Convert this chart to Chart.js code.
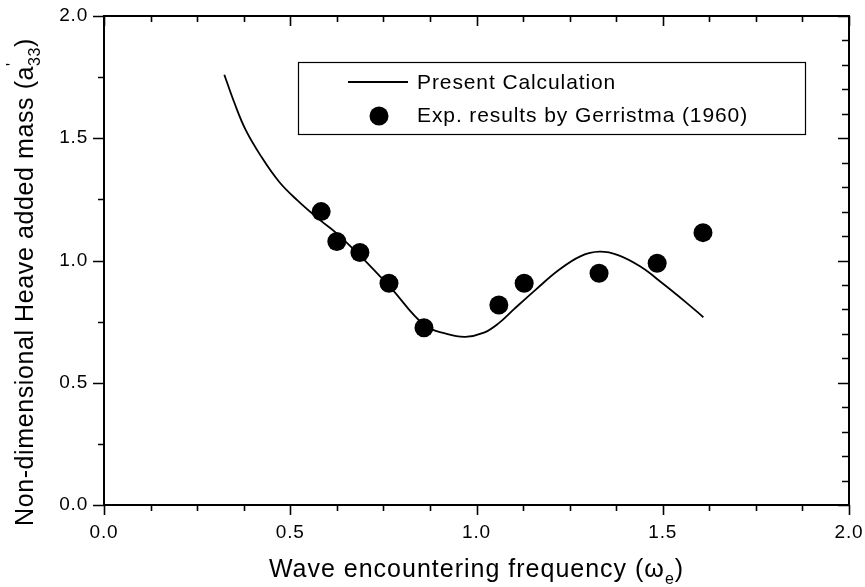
<!DOCTYPE html>
<html>
<head>
<meta charset="utf-8">
<title>Heave added mass</title>
<script src="https://cdn.jsdelivr.net/npm/chart.js@4.4.1/dist/chart.umd.min.js"></script>
<style>
  html, body { margin: 0; padding: 0; background: #fff; }
  canvas { display: block; }
</style>
</head>
<body>
<canvas id="chart" width="865" height="587"></canvas>
<script>
// calculated curve
const calcFreq = [0.323, 0.35, 0.38, 0.42, 0.47, 0.52, 0.58, 0.62, 0.69, 0.77, 0.86, 0.92, 0.97,
  1.02, 1.06, 1.10, 1.16, 1.22, 1.28, 1.33, 1.38, 1.44, 1.50, 1.56, 1.609];
const calcMass = [1.76, 1.645, 1.535, 1.43, 1.322, 1.245, 1.165, 1.117, 1.016, 0.888, 0.736, 0.70, 0.688,
  0.705, 0.744, 0.80, 0.882, 0.96, 1.018, 1.036, 1.022, 0.975, 0.906, 0.832, 0.768];

// experiments (Gerritsma 1960)
const expFreq = [0.583, 0.625, 0.687, 0.765, 0.859, 1.060, 1.128, 1.329, 1.485, 1.608];
const expMass = [1.20, 1.078, 1.033, 0.907, 0.725, 0.818, 0.907, 0.948, 0.989, 1.114];

const xTickLabels = ['0.0', '0.5', '1.0', '1.5', '2.0'];
const yTickLabels = ['0.0', '0.5', '1.0', '1.5', '2.0'];

const FONT = '"Liberation Sans", Arial, sans-serif';

// draws a run of text pieces (normal / sub / sup) centred on x
function drawRich(ctx, parts, cx, y, size) {
  const widths = parts.map(p => {
    ctx.font = `${Math.round(size * (p.scale || 1))}px ${FONT}`;
    return p.noAdvance ? 0 : ctx.measureText(p.text).width;
  });
  let x = cx - widths.reduce((a, b) => a + b, 0) / 2;
  parts.forEach((p, i) => {
    ctx.font = `${Math.round(size * (p.scale || 1))}px ${FONT}`;
    ctx.fillText(p.text, x + (p.dx || 0), y + (p.dy || 0) * size);
    x += widths[i];
  });
}

const axesPlugin = {
  id: 'axesPlugin',
  beforeDraw(chart) {
    chart.ctx.letterSpacing = '0.8px';
  },
  afterDraw(chart) {
    const { ctx, chartArea: a, scales: { x, y } } = chart;
    ctx.save();
    ctx.letterSpacing = '0px';
    ctx.strokeStyle = '#000';
    ctx.fillStyle = '#000';

    // frame
    ctx.lineWidth = 2;
    ctx.strokeRect(a.left, a.top, a.right - a.left, a.bottom - a.top);

    ctx.lineWidth = 1.6;
    ctx.beginPath();
    // bottom (out) and top (in), every 0.125
    for (let i = 0; i <= 16; i++) {
      const px = Math.round(x.getPixelForValue(i * 0.125)) + 0.5;
      const len = i % 4 === 0 ? 10 : 6;
      ctx.moveTo(px, a.bottom); ctx.lineTo(px, a.bottom + len);
      ctx.moveTo(px, a.top); ctx.lineTo(px, a.top + len);
    }
    // left (out), every 0.25
    for (let i = 0; i <= 8; i++) {
      const py = Math.round(y.getPixelForValue(i * 0.25)) + 0.5;
      const len = i % 2 === 0 ? 11 : 6;
      ctx.moveTo(a.left, py); ctx.lineTo(a.left - len, py);
    }
    // right (in), every 0.1
    for (let i = 0; i <= 20; i++) {
      const py = Math.round(y.getPixelForValue(i * 0.1)) + 0.5;
      const len = i % 5 === 0 ? 11 : 7;
      ctx.moveTo(a.right, py); ctx.lineTo(a.right - len, py);
    }
    ctx.stroke();

    // axis titles
    ctx.textAlign = 'left';
    ctx.textBaseline = 'alphabetic';
    ctx.letterSpacing = '1px';
    drawRich(ctx, [
      { text: 'Wave encountering frequency (ω' },
      { text: 'e', scale: 0.65, dy: 0.28 },
      { text: ')' }
    ], (a.left + a.right) / 2, 577, 25);

    ctx.save();
    ctx.letterSpacing = '0.6px';
    ctx.translate(33, 282);
    ctx.rotate(-Math.PI / 2);
    drawRich(ctx, [
      { text: 'Non-dimensional Heave added mass (a' },
      { text: '\'', scale: 0.65, dy: -0.62, noAdvance: true },
      { text: '33', scale: 0.65, dy: 0.28 },
      { text: ')' }
    ], 0, 0, 25);
    ctx.restore();

    // legend
    const [calc, exp] = chart.data.datasets;
    const bx = 298, by = 62, bw = 507, bh = 72;
    ctx.letterSpacing = '0.9px';
    ctx.fillStyle = '#fff';
    ctx.fillRect(bx, by, bw, bh);
    ctx.lineWidth = 1.2;
    ctx.strokeRect(bx + 0.5, by + 0.5, bw, bh);
    ctx.fillStyle = '#000';
    ctx.lineWidth = 1.8;
    ctx.beginPath();
    ctx.moveTo(348, 82); ctx.lineTo(408, 82);
    ctx.stroke();
    ctx.beginPath();
    ctx.arc(379, 116, 9.5, 0, Math.PI * 2);
    ctx.fill();
    ctx.font = `21px ${FONT}`;
    ctx.textBaseline = 'middle';
    ctx.fillText(calc.label, 417, 83);
    ctx.fillText(exp.label, 417, 116);

    ctx.restore();
  }
};

new Chart(document.getElementById('chart'), {
  type: 'scatter',
  data: {
    datasets: [
      {
        label: 'Present Calculation',
        data: calcFreq.map((f, i) => ({ x: f, y: calcMass[i] })),
        showLine: true,
        pointRadius: 0,
        borderColor: '#000',
        borderWidth: 1.8,
        tension: 0.4,
        fill: false
      },
      {
        label: 'Exp. results by Gerristma (1960)',
        data: expFreq.map((f, i) => ({ x: f, y: expMass[i] })),
        showLine: false,
        pointRadius: 9.5,
        pointBackgroundColor: '#000',
        pointBorderWidth: 0
      }
    ]
  },
  options: {
    responsive: false,
    animation: false,
    layout: { padding: { top: 16, right: 16, left: 0, bottom: 0 } },
    plugins: { legend: { display: false }, tooltip: { enabled: false } },
    scales: {
      x: {
        type: 'linear', min: 0, max: 2,
        grid: { display: false, drawTicks: false },
        border: { display: false },
        ticks: {
          stepSize: 0.5, padding: 16, color: '#000', maxRotation: 0,
          font: { family: FONT, size: 19 },
          callback: (v) => xTickLabels[Math.round(v / 0.5)]
        },
        afterFit: (s) => { s.height = 82; s.paddingLeft = 0; s.paddingRight = 0; }
      },
      y: {
        type: 'linear', min: 0, max: 2,
        grid: { display: false, drawTicks: false },
        border: { display: false },
        ticks: {
          stepSize: 0.5, padding: 16, color: '#000',
          font: { family: FONT, size: 19 },
          callback: (v) => yTickLabels[Math.round(v / 0.5)]
        },
        afterFit: (s) => { s.width = 104; s.paddingTop = 0; s.paddingBottom = 0; }
      }
    }
  },
  plugins: [axesPlugin]
});
</script>
</body>
</html>
